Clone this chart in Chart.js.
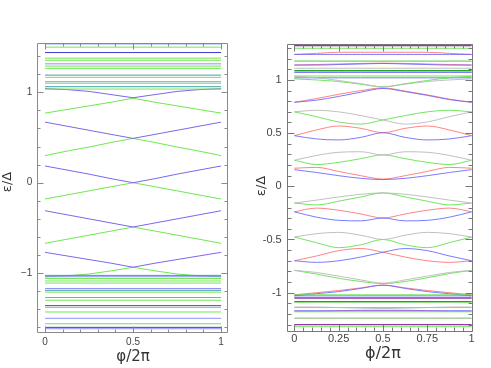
<!DOCTYPE html>
<html><head><meta charset="utf-8">
<script src="https://cdn.jsdelivr.net/npm/chart.js@4.4.0/dist/chart.umd.min.js"></script>
<style>
html,body{margin:0;padding:0;background:#fff;}
#wrap{position:relative;width:491px;height:368px;overflow:hidden;}
.box{position:absolute;top:0;height:368px;}
#bl{left:0;width:250px;}
#br{left:250px;width:241px;}
canvas{display:block;}
</style></head><body>
<div id="wrap"><div class="box" id="bl"><canvas id="cl"></canvas></div><div class="box" id="br"><canvas id="cr"></canvas></div></div>
<script>
// ---------- LEFT PANEL DATA ----------
const phiL = [0, 0.125, 0.25, 0.375, 0.5, 0.625, 0.75, 0.875, 1];
const leftBlueStates = [
  [1.04, 1.03, 1.01, 0.975, 0.94, 0.975, 1.01, 1.03, 1.04],
  [0.67, 0.625, 0.58, 0.535, 0.49, 0.535, 0.58, 0.625, 0.67],
  [0.185, 0.14, 0.095, 0.045, 0.0, 0.045, 0.095, 0.14, 0.185],
  [-0.31, -0.355, -0.40, -0.445, -0.49, -0.445, -0.40, -0.355, -0.31],
  [-0.77, -0.81, -0.85, -0.89, -0.935, -0.89, -0.85, -0.81, -0.77]
];
const leftGreenStates = [
  [0.77, 0.81, 0.85, 0.89, 0.935, 0.89, 0.85, 0.81, 0.77],
  [0.30, 0.35, 0.395, 0.445, 0.49, 0.445, 0.395, 0.35, 0.30],
  [-0.18, -0.135, -0.09, -0.045, 0.0, -0.045, -0.09, -0.135, -0.18],
  [-0.67, -0.625, -0.58, -0.535, -0.49, -0.535, -0.58, -0.625, -0.67],
  [-1.04, -1.03, -1.01, -0.975, -0.935, -0.975, -1.01, -1.03, -1.04]
];
const leftContGreen = [1.50, 1.378, 1.355, 1.29, 1.265, 1.165, 1.10, 1.036, -1.06, -1.087, -1.11, -1.21, -1.30, -1.38, -1.43, -1.56];
const leftContBlue = [1.535, 1.315, 1.117, -1.04, -1.17, -1.27, -1.50, -1.615];
const leftContDarkBlue = [1.44, -1.36, -1.60];
const leftContTeal = [1.19, 1.062, -1.025, -1.19];
const leftXTicks = [0, 0.5, 1];
const leftYTicks = [-1, 0, 1];

// ---------- RIGHT PANEL DATA ----------
const phiR = [0, 0.125, 0.25, 0.375, 0.5, 0.625, 0.75, 0.875, 1];
const rightRed = [
  [1.24, 1.25, 1.26, 1.26, 1.26, 1.26, 1.26, 1.25, 1.24],
  [1.14, 1.145, 1.15, 1.155, 1.158, 1.155, 1.15, 1.145, 1.14],
  [0.79, 0.825, 0.865, 0.90, 0.925, 0.895, 0.86, 0.82, 0.79],
  [0.476, 0.53, 0.567, 0.545, 0.504, 0.545, 0.567, 0.53, 0.476],
  [0.17, 0.178, 0.14, 0.10, 0.068, 0.10, 0.14, 0.178, 0.17],
  [-0.24, -0.205, -0.225, -0.26, -0.298, -0.26, -0.225, -0.205, -0.24],
  [-0.70, -0.655, -0.605, -0.585, -0.62, -0.665, -0.70, -0.715, -0.70],
  [-1.02, -1.0, -0.98, -0.955, -0.928, -0.955, -0.98, -1.0, -1.02],
  [-1.175, -1.175, -1.17, -1.165, -1.165, -1.165, -1.17, -1.175, -1.175]
];
const rightBlue = [
  [1.24, 1.24, 1.24, 1.24, 1.24, 1.24, 1.24, 1.24, 1.24],
  [1.14, 1.14, 1.145, 1.15, 1.155, 1.15, 1.145, 1.14, 1.14],
  [1.07, 1.07, 1.07, 1.07, 1.07, 1.07, 1.07, 1.07, 1.07],
  [1.02, 1.02, 1.02, 1.02, 1.02, 1.02, 1.02, 1.02, 1.02],
  [0.79, 0.81, 0.845, 0.885, 0.92, 0.89, 0.855, 0.815, 0.79],
  [0.476, 0.445, 0.436, 0.46, 0.504, 0.46, 0.436, 0.445, 0.476],
  [0.157, 0.13, 0.10, 0.075, 0.063, 0.075, 0.10, 0.13, 0.157],
  [-0.24, -0.29, -0.32, -0.325, -0.298, -0.325, -0.32, -0.29, -0.24],
  [-0.70, -0.715, -0.70, -0.665, -0.62, -0.585, -0.605, -0.655, -0.70],
  [-1.03, -1.01, -0.99, -0.96, -0.93, -0.96, -0.99, -1.01, -1.03],
  [-1.03, -1.03, -1.03, -1.03, -1.03, -1.03, -1.03, -1.03, -1.03],
  [-1.17, -1.17, -1.17, -1.17, -1.17, -1.17, -1.17, -1.17, -1.17]
];
const rightGreen = [
  [1.298, 1.298, 1.298, 1.298, 1.298, 1.298, 1.298, 1.298, 1.298],
  [1.178, 1.178, 1.178, 1.178, 1.178, 1.178, 1.178, 1.178, 1.178],
  [1.037, 1.037, 1.037, 1.037, 1.037, 1.037, 1.037, 1.037, 1.037],
  [1.01, 1.0, 0.985, 0.96, 0.935, 0.965, 0.995, 1.02, 1.035],
  [0.70, 0.655, 0.605, 0.585, 0.624, 0.665, 0.70, 0.715, 0.70],
  [0.245, 0.205, 0.225, 0.26, 0.295, 0.26, 0.225, 0.205, 0.245],
  [-0.157, -0.175, -0.14, -0.10, -0.062, -0.10, -0.14, -0.175, -0.157],
  [-0.477, -0.53, -0.577, -0.55, -0.50, -0.55, -0.577, -0.53, -0.477],
  [-0.79, -0.825, -0.865, -0.895, -0.915, -0.895, -0.86, -0.82, -0.79],
  [-1.02, -1.02, -1.02, -1.02, -1.02, -1.02, -1.02, -1.02, -1.02],
  [-1.09, -1.09, -1.09, -1.09, -1.09, -1.09, -1.09, -1.09, -1.09],
  [-1.14, -1.14, -1.14, -1.14, -1.14, -1.14, -1.14, -1.14, -1.14],
  [-1.18, -1.18, -1.18, -1.18, -1.18, -1.18, -1.18, -1.18, -1.18],
  [-1.24, -1.24, -1.24, -1.24, -1.24, -1.24, -1.24, -1.24, -1.24],
  [-1.32, -1.32, -1.32, -1.32, -1.32, -1.32, -1.32, -1.32, -1.32]
];
const rightGray = [
  [1.175, 1.175, 1.175, 1.175, 1.175, 1.175, 1.175, 1.175, 1.175],
  [1.11, 1.11, 1.11, 1.11, 1.11, 1.11, 1.11, 1.11, 1.11],
  [1.035, 1.02, 0.995, 0.965, 0.935, 0.96, 0.985, 1.0, 1.01],
  [0.70, 0.715, 0.70, 0.665, 0.624, 0.585, 0.605, 0.655, 0.70],
  [0.245, 0.29, 0.32, 0.325, 0.295, 0.325, 0.32, 0.29, 0.245],
  [-0.157, -0.13, -0.10, -0.075, -0.062, -0.075, -0.10, -0.13, -0.157],
  [-0.477, -0.445, -0.433, -0.46, -0.50, -0.46, -0.433, -0.445, -0.477],
  [-0.79, -0.81, -0.845, -0.88, -0.91, -0.88, -0.845, -0.81, -0.79],
  [-1.135, -1.135, -1.14, -1.145, -1.15, -1.145, -1.14, -1.135, -1.135],
  [-1.24, -1.24, -1.24, -1.24, -1.24, -1.24, -1.24, -1.24, -1.24]
];
const rightPurple = [1.323, -1.05, -1.084, -1.30];
const rightDarkGreen = [1.086];
const rightXTicks = [0, 0.25, 0.5, 0.75, 1];
const rightYTicks = [-1, -0.5, 0, 0.5, 1];

// ---------- helpers ----------
function pts(xs, ys) { return xs.map((x, i) => ({x: x, y: ys[i]})); }
function flat(v) { return [{x: 0, y: v}, {x: 1, y: v}]; }
function ds(data, color, w, smooth) {
  return {data: data, borderColor: color, borderWidth: w || 1, pointRadius: 0, showLine: true,
          tension: 0, cubicInterpolationMode: smooth ? 'monotone' : 'default', fill: false};
}

const framePlugin = {
  id: 'frame',
  afterDatasetsDraw(chart, args, o) {
    const {ctx, chartArea: a} = chart;
    const x = chart.scales.x, y = chart.scales.y;
    ctx.save();
    ctx.strokeStyle = o.color; ctx.lineWidth = 1;
    const L = Math.round(a.left) + 0.5, R = Math.round(a.right) - 0.5;
    const T = Math.round(a.top) + 0.5, B = Math.round(a.bottom) - 0.5;
    ctx.beginPath(); ctx.rect(L, T, R - L, B - T); ctx.stroke();
    const seg = (x1, y1, x2, y2) => { ctx.beginPath(); ctx.moveTo(x1, y1); ctx.lineTo(x2, y2); ctx.stroke(); };
    const isMaj = (v, list) => list.some(m => Math.abs(m - v) < 1e-6);
    for (let v = o.xMinorStart; v <= o.xMinorEnd + 1e-9; v += o.xMinorStep) {
      const len = isMaj(v, o.xMajor) ? o.majLen : o.minLen;
      const px = Math.round(x.getPixelForValue(v)) + 0.5;
      seg(px, B, px, B - len); seg(px, T, px, T + len);
    }
    for (let v = o.yMinorStart; v <= o.yMinorEnd + 1e-9; v += o.yMinorStep) {
      const len = isMaj(v, o.yMajor) ? o.majLen : o.minLen;
      const py = Math.round(y.getPixelForValue(v)) + 0.5;
      seg(L, py, L + len, py); seg(R, py, R - len, py);
    }
    ctx.restore();
    // axis titles
    ctx.save();
    ctx.fillStyle = '#333';
    ctx.textAlign = 'center'; ctx.textBaseline = 'middle';
    ctx.font = o.xtFont;
    ctx.fillText(o.xTitle, o.xtX, o.xtY);
    ctx.translate(o.ytX, o.ytY); ctx.rotate(-Math.PI / 2);
    ctx.font = o.ytFont;
    ctx.fillText(o.yTitle, 0, 0);
    ctx.restore();
  }
};

function makeChart(id, datasets, cfg) {
  return new Chart(document.getElementById(id), {
    type: 'scatter',
    data: {datasets: datasets},
    plugins: [framePlugin],
    options: {
      responsive: true, maintainAspectRatio: false, animation: false,
      layout: {padding: {top: cfg.padTop, right: cfg.padRight, left: 0, bottom: 0}},
      plugins: {legend: {display: false}, tooltip: {enabled: false}, frame: cfg.frame},
      scales: {
        x: {type: 'linear', min: cfg.xMin, max: cfg.xMax,
            grid: {display: false, drawTicks: false, tickLength: 0}, border: {display: false},
            afterBuildTicks: s => { s.ticks = cfg.xTicks.map(v => ({value: v})); },
            afterFit: s => { s.height = cfg.xH; },
            ticks: {padding: cfg.xPad, color: '#444', font: {size: cfg.fs, family: 'Liberation Sans, Arial, sans-serif'},
                    callback: v => cfg.xFmt(v), maxRotation: 0, autoSkip: false}},
        y: {type: 'linear', min: cfg.yMin, max: cfg.yMax,
            grid: {display: false, drawTicks: false, tickLength: 0}, border: {display: false},
            afterBuildTicks: s => { s.ticks = cfg.yTicks.map(v => ({value: v})); },
            afterFit: s => { s.width = cfg.yW; },
            ticks: {padding: cfg.yPad, color: '#444', font: {size: cfg.fs, family: 'Liberation Sans, Arial, sans-serif'},
                    callback: v => cfg.yFmt(v), autoSkip: false}}
      }
    }
  });
}

// ---------- LEFT CHART ----------
const cLGreen = 'rgba(95,230,60,0.9)', cLBlue = 'rgba(115,95,235,0.95)';
const cLLBlue = 'rgba(130,130,255,0.9)', cLDBlue = 'rgba(50,50,200,0.95)', cLTeal = 'rgba(60,150,160,0.95)';
const leftDs = [];
leftContGreen.forEach(v => leftDs.push(ds(flat(v), cLGreen)));
leftContBlue.forEach(v => leftDs.push(ds(flat(v), cLLBlue)));
leftContDarkBlue.forEach(v => leftDs.push(ds(flat(v), cLDBlue)));
leftContTeal.forEach(v => leftDs.push(ds(flat(v), cLTeal)));
leftBlueStates.forEach(a => leftDs.push(ds(pts(phiL, a), cLBlue)));
leftGreenStates.forEach(a => leftDs.push(ds(pts(phiL, a), cLGreen)));

makeChart('cl', leftDs, {
  padTop: 42.5, padRight: 21.7, xMin: -0.044, xMax: 1.041, yMin: -1.659, yMax: 1.551,
  xH: 35.3, yW: 37.3, xPad: 4, yPad: 5, fs: 10,
  xTicks: leftXTicks, yTicks: leftYTicks,
  xFmt: v => String(v), yFmt: v => (v < 0 ? '\u2212' + Math.abs(v) : String(v)),
  frame: {color: '#8a8a8a', majLen: 6, minLen: 3,
          xMinorStart: 0, xMinorEnd: 1, xMinorStep: 0.1, xMajor: leftXTicks,
          yMinorStart: -1.6, yMinorEnd: 1.4, yMinorStep: 0.2, yMajor: leftYTicks,
          xTitle: '\u03C6/2\u03C0', xtX: 133, xtY: 357, xtFont: '15px "DejaVu Sans", sans-serif',
          yTitle: '\u03B5/\u0394', ytX: 8, ytY: 182, ytFont: '13px "DejaVu Sans", sans-serif'}
});

// ---------- RIGHT CHART ----------
const cRRed = 'rgba(255,110,110,0.85)', cRBlue = 'rgba(100,100,255,0.85)', cRGreen = 'rgba(100,225,80,0.9)';
const cRGray = 'rgba(185,185,185,0.9)', cRPurple = 'rgba(140,40,160,0.95)', cRDGreen = 'rgba(40,165,40,1)';
const rightDs = [];
rightGray.forEach(a => rightDs.push(ds(pts(phiR, a), cRGray, 1, true)));
rightGreen.forEach(a => rightDs.push(ds(pts(phiR, a), cRGreen, 1, true)));
rightBlue.forEach(a => rightDs.push(ds(pts(phiR, a), cRBlue, 1, true)));
rightRed.forEach(a => rightDs.push(ds(pts(phiR, a), cRRed, 1, true)));
rightPurple.forEach(v => rightDs.push(ds(flat(v), cRPurple, 1.3)));
rightDarkGreen.forEach(v => rightDs.push(ds(flat(v), cRDGreen, 1.6)));

makeChart('cr', rightDs, {
  padTop: 44, padRight: 18.3, xMin: -0.043, xMax: 1.006, yMin: -1.367, yMax: 1.338,
  xH: 36.3, yW: 36.7, xPad: 1, yPad: 5, fs: 11,
  xTicks: rightXTicks, yTicks: rightYTicks,
  xFmt: v => String(v), yFmt: v => String(v),
  frame: {color: '#777', majLen: 7, minLen: 4,
          xMinorStart: 0, xMinorEnd: 1, xMinorStep: 0.05, xMajor: rightXTicks,
          yMinorStart: -1.3, yMinorEnd: 1.3, yMinorStep: 0.1, yMajor: rightYTicks,
          xTitle: '\u03D5/2\u03C0', xtX: 133, xtY: 354, xtFont: '16px "DejaVu Sans", sans-serif',
          yTitle: '\u03B5/\u0394', ytX: 12, ytY: 186, ytFont: '13px "DejaVu Sans", sans-serif'}
});
</script>
</body></html>
